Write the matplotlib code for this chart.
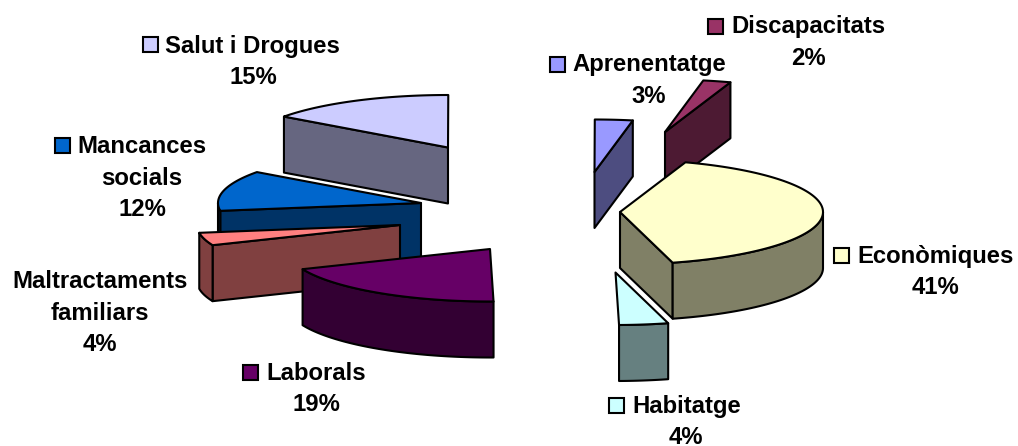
import numpy as np
import matplotlib
matplotlib.use("Agg")
import matplotlib.pyplot as plt
from matplotlib.patches import Polygon, Rectangle

# --- data -------------------------------------------------------------
categories = ["Econòmiques", "Habitatge", "Laborals", "Maltractaments\nfamiliars",
              "Mancances\nsocials", "Salut i Drogues", "Aprenentatge", "Discapacitats"]
# shares; the printed labels are these, rounded
shares = [40.6, 3.9, 19.0, 3.9, 12.4, 15.0, 3.0, 2.2]

# --- style ------------------------------------------------------------
colors = ["#FFFFCC", "#CCFFFF", "#660066", "#FF8080", "#0066CC", "#CCCCFF", "#9999FF", "#993366"]
START = 18.8           # first slice angle, clockwise from north
RX, RY, DEPTH = 203, 52.5, 56
apex = {0: (620, 212), 1: (615.5, 272.5), 2: (490, 249), 3: (400, 225),
        4: (421, 203), 5: (448, 147.5), 6: (594.5, 172), 7: (665, 132)}
order = [4, 5, 3, 2, 6, 7, 0, 1]
label_pos = {
    0: dict(key=(842, 255), first=(857, 262.5), cx=936),
    1: dict(key=(617, 405), first=(632, 412.5), cx=686),
    2: dict(key=(251, 372), first=(266, 379.5), cx=316),
    3: dict(key=None, first=(100, 288.5), cx=100),
    4: dict(key=(63, 145.5), first=(77, 153.3), cx=142),
    5: dict(key=(150.5, 44.5), first=(165, 52.5), cx=253),
    6: dict(key=(558, 64), first=(572, 71.5), cx=649),
    7: dict(key=(716, 26), first=(731, 33.5), cx=808),
}
LINE_H = 31.3
KEY = 15
FONT = dict(family="Liberation Sans", fontweight="bold", fontsize=17.2, color="black")
LW = 1.5


def darker(c, f=0.5):
    r, g, b = matplotlib.colors.to_rgb(c)
    return (r * f, g * f, b * f)


def pt(a, ang):
    t = np.radians(ang)
    return np.array([a[0] + RX * np.sin(t), a[1] - RY * np.cos(t)])


def arc(a, t0, t1):
    n = max(int(abs(t1 - t0)), 2) + 1
    return np.array([pt(a, t) for t in np.linspace(t0, t1, n)])


fig = plt.figure(figsize=(10.18, 4.46), dpi=100)
ax = fig.add_axes([0, 0, 1, 1])
ax.set_xlim(0, 1018)
ax.set_ylim(446, 0)
ax.axis("off")

edges = START + np.concatenate([[0], np.cumsum(shares)]) * 3.6


def draw(poly, color, z):
    ax.add_patch(Polygon(poly, closed=True, facecolor=color, edgecolor="black",
                         linewidth=LW, joinstyle="round", zorder=z))


z = 1
down = np.array([0, DEPTH])
for i in order:
    t0, t1 = edges[i], edges[i + 1]
    a = np.array(apex[i], float)
    side = darker(colors[i])
    s0, s1 = np.sin(np.radians(t0)), np.sin(np.radians(t1))
    if s0 < -0.03:
        p = pt(a, t0)
        draw([a, p, p + down, a + down], side, z); z += 1
    if s1 > 0.03:
        p = pt(a, t1)
        draw([a, p, p + down, a + down], side, z); z += 1
    lo, hi = max(t0, 90), min(t1, 270)
    if hi > lo:
        rim = arc(a, lo, hi)
        draw(np.vstack([rim, (rim + down)[::-1]]), side, z); z += 1
    draw(np.vstack([a, arc(a, t0, t1)]), colors[i], z); z += 1

for i, name in enumerate(categories):
    pos = label_pos[i]
    lines = name.split("\n")
    fx, fy = pos["first"]
    if pos["key"] is not None:
        kx, ky = pos["key"]
        ax.add_patch(Rectangle((kx - KEY / 2, ky - KEY / 2), KEY, KEY, facecolor=colors[i],
                               edgecolor="black", linewidth=LW, zorder=200))
        ax.text(fx, fy, lines[0], ha="left", va="baseline", zorder=201, **FONT)
    else:
        ax.text(fx, fy, lines[0], ha="center", va="baseline", zorder=201, **FONT)
    y = fy
    for extra in lines[1:] + [f"{round(shares[i])}%"]:
        y += LINE_H
        ax.text(pos["cx"], y, extra, ha="center", va="baseline", zorder=201, **FONT)

fig.savefig("out.png", dpi=100)
